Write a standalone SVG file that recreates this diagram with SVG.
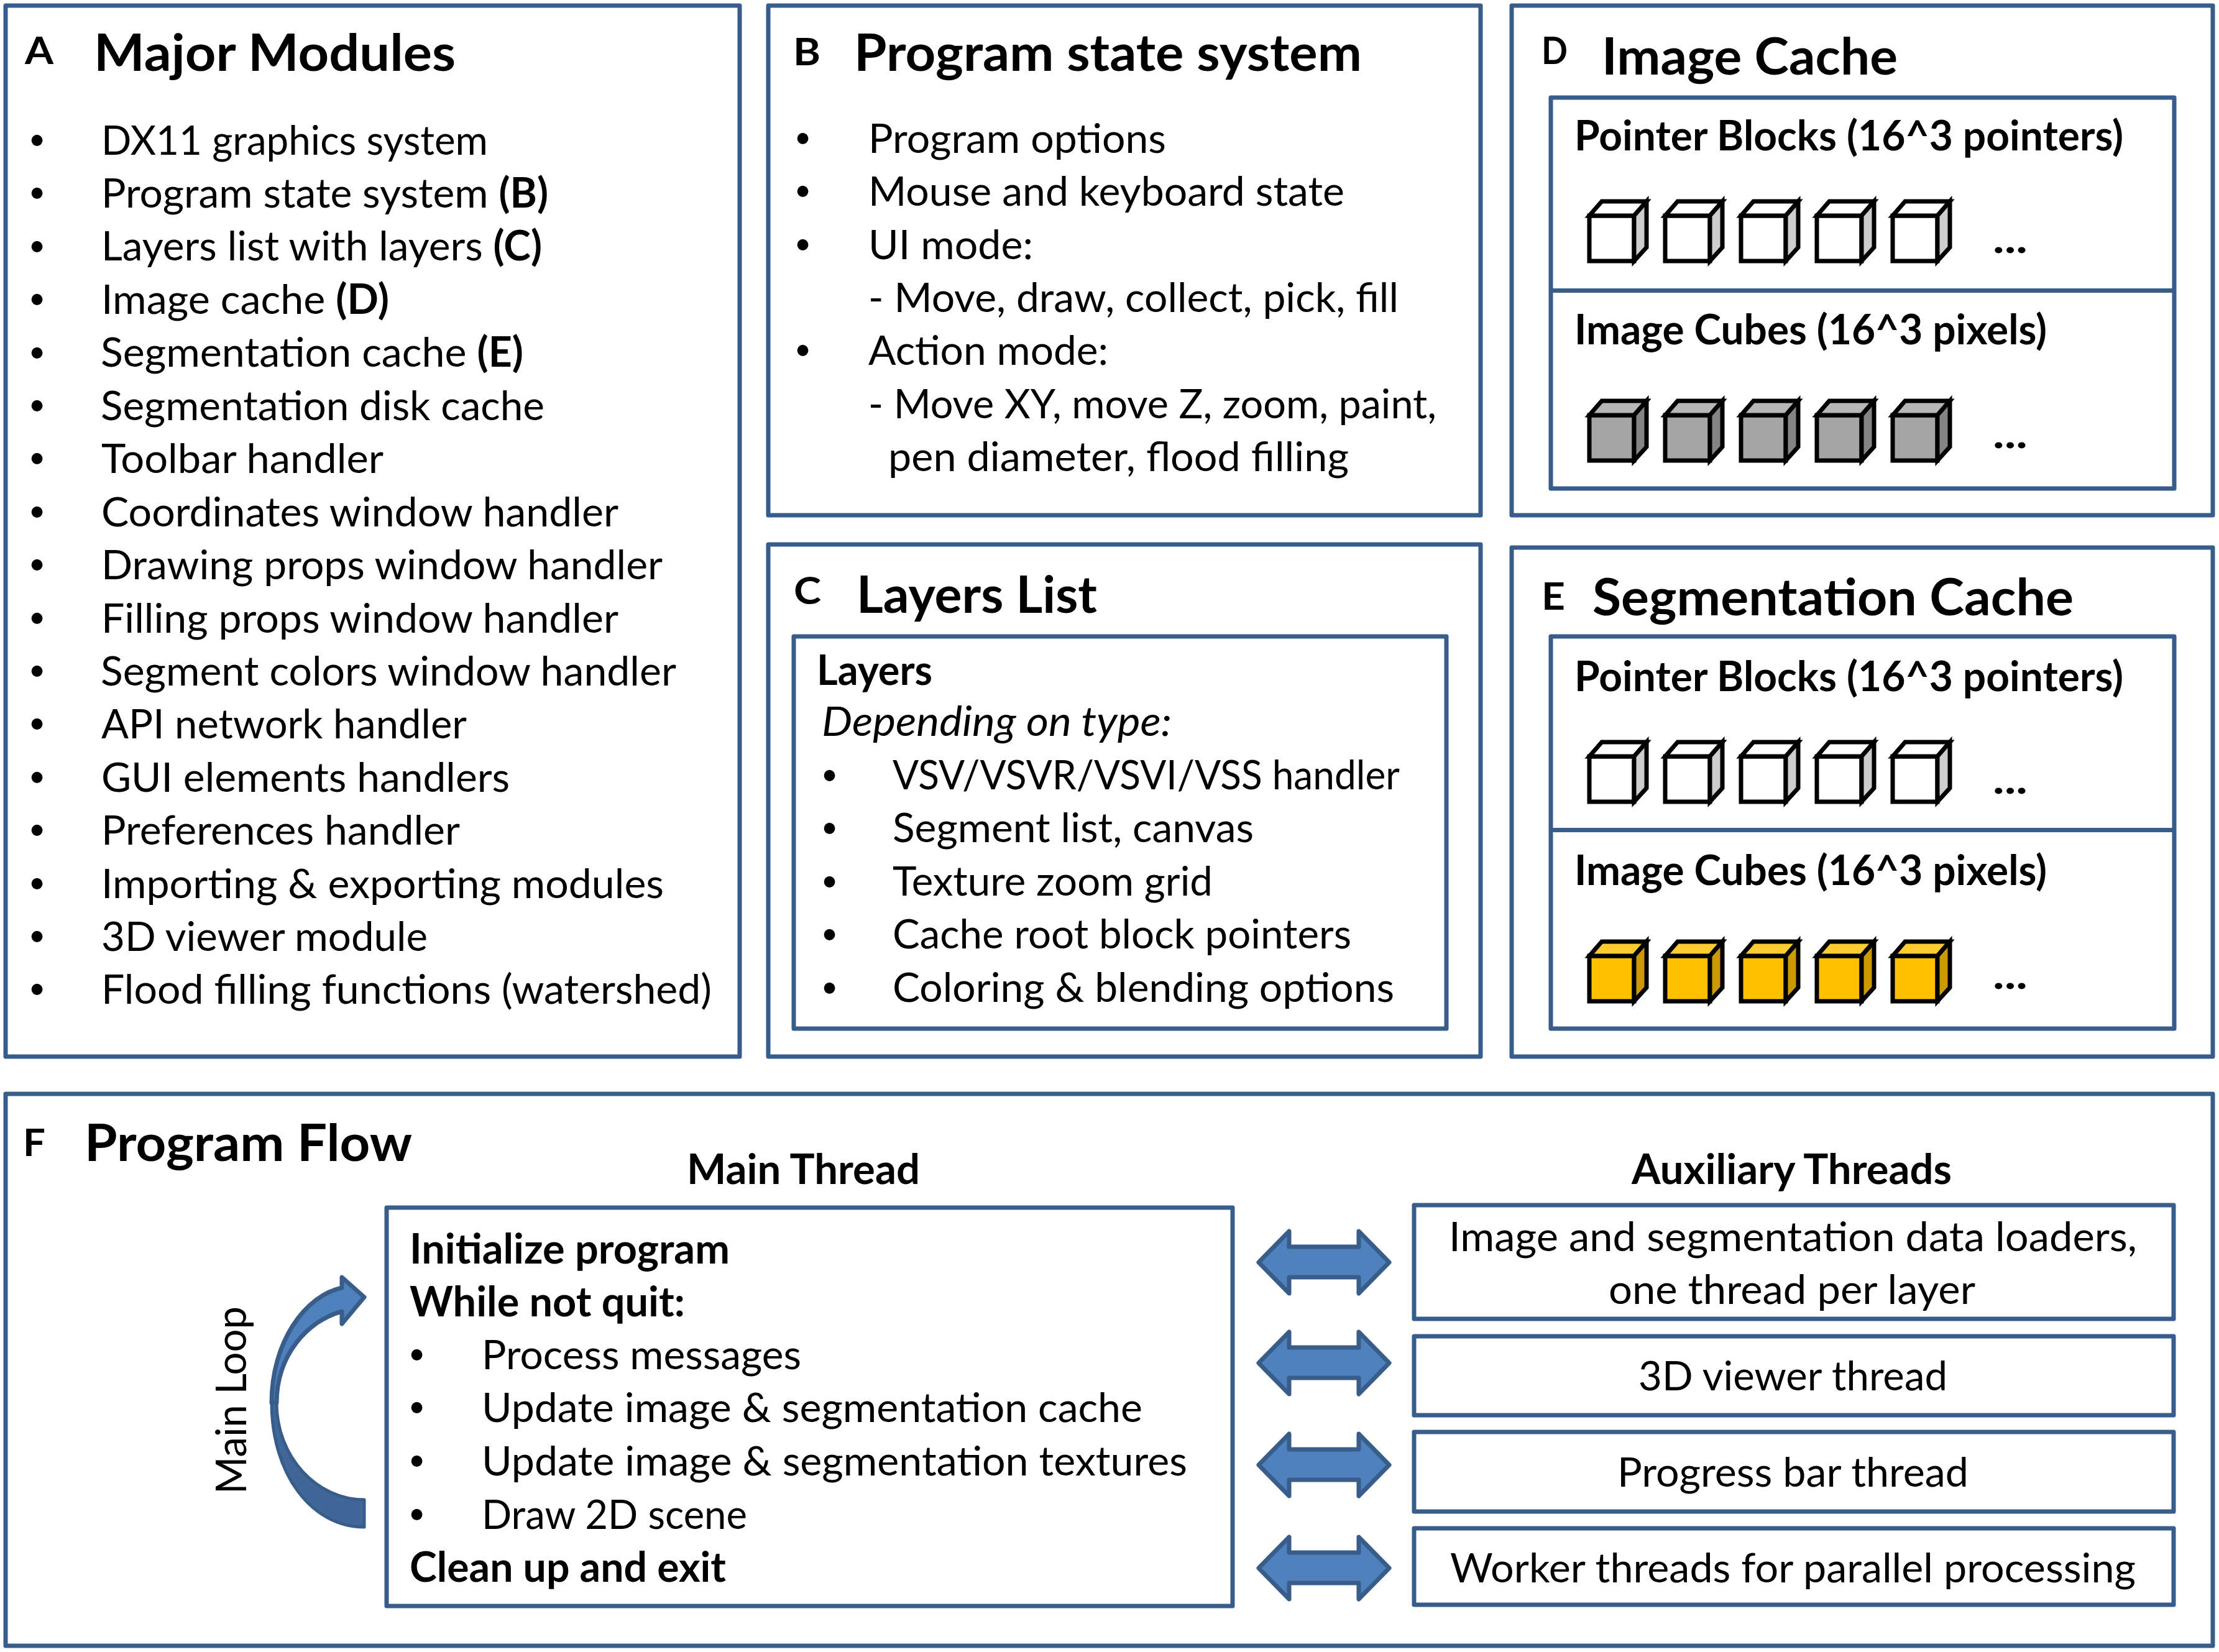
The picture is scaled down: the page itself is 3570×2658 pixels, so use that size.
<svg xmlns="http://www.w3.org/2000/svg" width="3570" height="2658" viewBox="0 0 3570 2658">
<style>
text{font-family:"Lato","Carlito","Open Sans",sans-serif;fill:#000;font-size:66px;white-space:pre}
.b,tspan.b{font-weight:700}
.h{font-weight:700;font-size:82px;transform:translateY(2px)}
.l{font-weight:700;font-size:62px}
.i{font-style:italic}
.ml{font-size:68px}
.bu{font-family:"Liberation Sans",sans-serif;font-size:66px;transform:translate(-3px,2px)}
.box{fill:#fff;stroke:#385d8a;stroke-width:7;stroke-linejoin:round}
.arr{fill:#4f81bd;stroke:#385d8a;stroke-width:7;stroke-linejoin:round}
.edge{stroke:#000;stroke-width:7;stroke-linejoin:miter}
</style>
<defs>
<path id="da" d="M2025 0L2074-50V-25H2186V-50L2235 0L2186 50V24H2074V50Z"/>
<g id="cw"><path class="edge" fill="#fff" d="M0 0V73H72V0Z"/><path class="edge" fill="#fff" d="M0 0L20-23H92L72 0Z"/><path class="edge" fill="#cdcdcd" d="M72 0L92-23V51L72 73Z"/></g>
<g id="cg"><path class="edge" fill="#a5a5a5" d="M0 0V73H72V0Z"/><path class="edge" fill="#b7b7b7" d="M0 0L20-23H92L72 0Z"/><path class="edge" fill="#848484" d="M72 0L92-23V51L72 73Z"/></g>
<g id="cy"><path class="edge" fill="#ffc000" d="M0 0V73H72V0Z"/><path class="edge" fill="#ffcd33" d="M0 0L20-23H92L72 0Z"/><path class="edge" fill="#cc9a00" d="M72 0L92-23V51L72 73Z"/></g>
</defs>
<rect width="3570" height="2658" fill="#fff"/>

<g id="node-a">
<rect class="box" x="9" y="9" width="1181" height="1691"/>
<text class="l" x="40" y="103" textLength="46" lengthAdjust="spacingAndGlyphs">A</text>
<text class="h" x="151" y="112" textLength="582" lengthAdjust="spacingAndGlyphs">Major Modules</text>
<text class="bu" x="51" y="246">•</text><text x="163" y="249" textLength="622" lengthAdjust="spacingAndGlyphs">DX11 graphics system</text>
<text class="bu" x="51" y="331">•</text><text x="163" y="334" textLength="719" lengthAdjust="spacingAndGlyphs">Program state system <tspan class="b">(B)</tspan></text>
<text class="bu" x="51" y="417">•</text><text x="163" y="419" textLength="709" lengthAdjust="spacingAndGlyphs">Layers list with layers <tspan class="b">(C)</tspan></text>
<text class="bu" x="51" y="502">•</text><text x="163" y="505" textLength="463" lengthAdjust="spacingAndGlyphs">Image cache <tspan class="b">(D)</tspan></text>
<text class="bu" x="51" y="588">•</text><text x="162" y="590" textLength="680" lengthAdjust="spacingAndGlyphs">Segmentation cache <tspan class="b">(E)</tspan></text>
<text class="bu" x="51" y="673">•</text><text x="162" y="676" textLength="714" lengthAdjust="spacingAndGlyphs">Segmentation disk cache</text>
<text class="bu" x="51" y="758">•</text><text x="163" y="761" textLength="454" lengthAdjust="spacingAndGlyphs">Toolbar handler</text>
<text class="bu" x="51" y="844">•</text><text x="163" y="847" textLength="832" lengthAdjust="spacingAndGlyphs">Coordinates window handler</text>
<text class="bu" x="51" y="929">•</text><text x="163" y="932" textLength="903" lengthAdjust="spacingAndGlyphs">Drawing props window handler</text>
<text class="bu" x="51" y="1015">•</text><text x="163" y="1018" textLength="832" lengthAdjust="spacingAndGlyphs">Filling props window handler</text>
<text class="bu" x="51" y="1100">•</text><text x="162" y="1103" textLength="926" lengthAdjust="spacingAndGlyphs">Segment colors window handler</text>
<text class="bu" x="51" y="1185">•</text><text x="163" y="1188" textLength="588" lengthAdjust="spacingAndGlyphs">API network handler</text>
<text class="bu" x="51" y="1271">•</text><text x="163" y="1274" textLength="657" lengthAdjust="spacingAndGlyphs">GUI elements handlers</text>
<text class="bu" x="51" y="1356">•</text><text x="163" y="1359" textLength="577" lengthAdjust="spacingAndGlyphs">Preferences handler</text>
<text class="bu" x="51" y="1442">•</text><text x="163" y="1445" textLength="905" lengthAdjust="spacingAndGlyphs">Importing &amp; exporting modules</text>
<text class="bu" x="51" y="1527">•</text><text x="163" y="1530" textLength="525" lengthAdjust="spacingAndGlyphs">3D viewer module</text>
<text class="bu" x="51" y="1612">•</text><text x="163" y="1615" textLength="982" lengthAdjust="spacingAndGlyphs">Flood filling functions (watershed)</text>
</g>

<g id="node-b">
<rect class="box" x="1236" y="9" width="1146" height="820"/>
<text class="l" x="1276" y="105" textLength="44" lengthAdjust="spacingAndGlyphs">B</text>
<text class="h" x="1374" y="112" textLength="817" lengthAdjust="spacingAndGlyphs">Program state system</text>
<text class="bu" x="1283" y="243">•</text><text x="1397" y="246" textLength="479" lengthAdjust="spacingAndGlyphs">Program options</text>
<text class="bu" x="1283" y="328">•</text><text x="1397" y="331" textLength="766" lengthAdjust="spacingAndGlyphs">Mouse and keyboard state</text>
<text class="bu" x="1283" y="414">•</text><text x="1397" y="417" textLength="265" lengthAdjust="spacingAndGlyphs">UI mode:</text>
<text x="1397" y="502" textLength="853" lengthAdjust="spacingAndGlyphs">- Move, draw, collect, pick, fill</text>
<text class="bu" x="1283" y="584">•</text><text x="1397" y="587" textLength="386" lengthAdjust="spacingAndGlyphs">Action mode:</text>
<text x="1397" y="673" textLength="914" lengthAdjust="spacingAndGlyphs">- Move XY, move Z, zoom, paint,</text>
<text x="1429" y="758" textLength="741" lengthAdjust="spacingAndGlyphs">pen diameter, flood filling</text>
</g>

<g id="node-c">
<rect class="box" x="1236" y="876" width="1146" height="824"/>
<text class="l" x="1277" y="972" textLength="44" lengthAdjust="spacingAndGlyphs">C</text>
<text class="h" x="1378" y="984" textLength="387" lengthAdjust="spacingAndGlyphs">Layers List</text>
<rect class="box" x="1277" y="1024" width="1050" height="631"/>
<text class="b" x="1314" y="1102" textLength="186" lengthAdjust="spacingAndGlyphs">Layers</text>
<text class="i" x="1322" y="1184" textLength="563" lengthAdjust="spacingAndGlyphs">Depending on type:</text>
<text class="bu" x="1326" y="1268">•</text><text x="1436" y="1270" textLength="816" lengthAdjust="spacingAndGlyphs">VSV/VSVR/VSVI/VSS handler</text>
<text class="bu" x="1326" y="1353">•</text><text x="1436" y="1355" textLength="581" lengthAdjust="spacingAndGlyphs">Segment list, canvas</text>
<text class="bu" x="1326" y="1439">•</text><text x="1436" y="1441" textLength="515" lengthAdjust="spacingAndGlyphs">Texture zoom grid</text>
<text class="bu" x="1326" y="1524">•</text><text x="1436" y="1526" textLength="738" lengthAdjust="spacingAndGlyphs">Cache root block pointers</text>
<text class="bu" x="1326" y="1610">•</text><text x="1436" y="1612" textLength="807" lengthAdjust="spacingAndGlyphs">Coloring &amp; blending options</text>
</g>

<g id="node-d">
<rect class="box" x="2432" y="9" width="1128" height="820"/>
<text class="l" x="2480" y="103" textLength="42" lengthAdjust="spacingAndGlyphs">D</text>
<text class="h" x="2577" y="118" textLength="476" lengthAdjust="spacingAndGlyphs">Image Cache</text>
<rect class="box" x="2495" y="157" width="1003" height="629"/>
<path class="box" d="M2495 467.500H3498"/>
<text class="b" x="2533" y="242" textLength="883" lengthAdjust="spacingAndGlyphs">Pointer Blocks (16^3 pointers)</text>
<use href="#cw" x="2557" y="347"/><use href="#cw" x="2679" y="347"/><use href="#cw" x="2801" y="347"/><use href="#cw" x="2923" y="347"/><use href="#cw" x="3045" y="347"/>
<text class="b" x="3206" y="407" textLength="56" lengthAdjust="spacingAndGlyphs">...</text>
<text class="b" x="2533" y="554" textLength="760" lengthAdjust="spacingAndGlyphs">Image Cubes (16^3 pixels)</text>
<use href="#cg" x="2557" y="668"/><use href="#cg" x="2679" y="668"/><use href="#cg" x="2801" y="668"/><use href="#cg" x="2923" y="668"/><use href="#cg" x="3045" y="668"/>
<text class="b" x="3206" y="721" textLength="56" lengthAdjust="spacingAndGlyphs">...</text>
</g>

<g id="node-e">
<rect class="box" x="2432" y="881" width="1128" height="819"/>
<text class="l" x="2480" y="981" textLength="38" lengthAdjust="spacingAndGlyphs">E</text>
<text class="h" x="2562" y="988" textLength="774" lengthAdjust="spacingAndGlyphs">Segmentation Cache</text>
<rect class="box" x="2495" y="1024" width="1003" height="631"/>
<path class="box" d="M2495 1335.500H3498"/>
<text class="b" x="2533" y="1112" textLength="883" lengthAdjust="spacingAndGlyphs">Pointer Blocks (16^3 pointers)</text>
<use href="#cw" x="2557" y="1217"/><use href="#cw" x="2679" y="1217"/><use href="#cw" x="2801" y="1217"/><use href="#cw" x="2923" y="1217"/><use href="#cw" x="3045" y="1217"/>
<text class="b" x="3206" y="1277" textLength="56" lengthAdjust="spacingAndGlyphs">...</text>
<text class="b" x="2533" y="1424" textLength="760" lengthAdjust="spacingAndGlyphs">Image Cubes (16^3 pixels)</text>
<use href="#cy" x="2557" y="1538"/><use href="#cy" x="2679" y="1538"/><use href="#cy" x="2801" y="1538"/><use href="#cy" x="2923" y="1538"/><use href="#cy" x="3045" y="1538"/>
<text class="b" x="3206" y="1591" textLength="56" lengthAdjust="spacingAndGlyphs">...</text>
</g>

<g id="node-f">
<rect class="box" x="9" y="1760" width="3551" height="888"/>
<text class="l" x="37" y="1860" textLength="36" lengthAdjust="spacingAndGlyphs">F</text>
<text class="h" x="136" y="1866" textLength="527" lengthAdjust="spacingAndGlyphs">Program Flow</text>
<text class="b" x="1105" y="1905" textLength="375" lengthAdjust="spacingAndGlyphs">Main Thread</text>
<text class="b" x="2625" y="1905" textLength="515" lengthAdjust="spacingAndGlyphs">Auxiliary Threads</text>
<text class="ml" transform="translate(396 2404) rotate(-90)" x="0" y="0" textLength="302" lengthAdjust="spacingAndGlyphs">Main Loop</text>
</g>

<g id="node-main-thread">
<rect class="box" x="622" y="1943" width="1361" height="641"/>
<text class="b" x="659" y="2033" textLength="515" lengthAdjust="spacingAndGlyphs">Initialize program</text>
<text class="b" x="659" y="2118" textLength="443" lengthAdjust="spacingAndGlyphs">While not quit:</text>
<text class="bu" x="662" y="2200">•</text><text x="775" y="2203" textLength="514" lengthAdjust="spacingAndGlyphs">Process messages</text>
<text class="bu" x="662" y="2285">•</text><text x="775" y="2288" textLength="1063" lengthAdjust="spacingAndGlyphs">Update image &amp; segmentation cache</text>
<text class="bu" x="662" y="2371">•</text><text x="775" y="2374" textLength="1135" lengthAdjust="spacingAndGlyphs">Update image &amp; segmentation textures</text>
<text class="bu" x="662" y="2457">•</text><text x="775" y="2460" textLength="427" lengthAdjust="spacingAndGlyphs">Draw 2D scene</text>
<text class="b" x="659" y="2545" textLength="509" lengthAdjust="spacingAndGlyphs">Clean up and exit</text>
</g>

<g id="node-loaders">
<rect class="box" x="2275" y="1939" width="1222" height="183"/>
<text x="2331" y="2013" textLength="1107" lengthAdjust="spacingAndGlyphs">Image and segmentation data loaders,</text>
<text x="2588" y="2098" textLength="590" lengthAdjust="spacingAndGlyphs">one thread per layer</text>
</g>
<g id="node-viewer">
<rect class="box" x="2275" y="2150" width="1222" height="127"/>
<text x="2636" y="2237" textLength="497" lengthAdjust="spacingAndGlyphs">3D viewer thread</text>
</g>
<g id="node-progress">
<rect class="box" x="2275" y="2304" width="1222" height="128"/>
<text x="2602" y="2392" textLength="565" lengthAdjust="spacingAndGlyphs">Progress bar thread</text>
</g>
<g id="node-workers">
<rect class="box" x="2275" y="2459" width="1222" height="123"/>
<text x="2333" y="2546" textLength="1103" lengthAdjust="spacingAndGlyphs">Worker threads for parallel processing</text>
</g>

<g id="connectors">
<use href="#da" class="arr" y="2031"/>
<use href="#da" class="arr" y="2193"/>
<use href="#da" class="arr" y="2357"/>
<use href="#da" class="arr" y="2523"/>
<g id="main-loop-arrow">
<path d="M586 2413C510 2413 445 2345 445 2257H437C437 2370 500 2457 586 2457Z" fill="#3f6797" stroke="#385d8a" stroke-width="5" stroke-linejoin="round"/>
<path class="arr" d="M437 2257C437 2160 490 2085 550 2072V2055L586 2087L550 2130V2110C495 2125 445 2180 445 2257Z"/>
</g>
</g>
</svg>
